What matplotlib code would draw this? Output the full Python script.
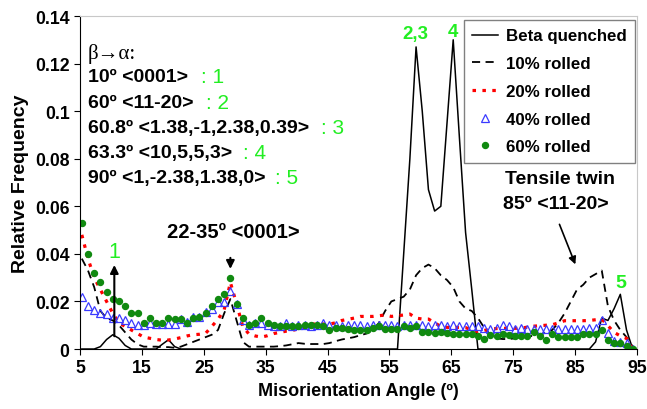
import numpy as np
import matplotlib
matplotlib.use("Agg")
import matplotlib.pyplot as plt

plt.rcParams['font.family'] = ['Liberation Sans', 'DejaVu Sans']
plt.rcParams['font.weight'] = 'bold'

# misorientation bins (deg)
angles = np.arange(5.3, 95, 1.0)

beta_quenched = [
    0, 0, 0, 0.001, 0.004, 0.006, 0.0045, 0.0015, 0, 0,
    0, 0, 0, 0.002, 0.0039, 0.001, 0, 0, 0, 0,
    0, 0, 0, 0, 0, 0, 0, 0, 0, 0,
    0, 0, 0, 0, 0, 0, 0, 0, 0, 0,
    0, 0, 0, 0, 0, 0, 0, 0, 0, 0,
    0, 0, 0.04, 0.08, 0.127, 0.10, 0.067, 0.058, 0.060, 0.095,
    0.13, 0.089, 0.049, 0.025, 0, 0, 0, 0, 0, 0,
    0, 0, 0, 0, 0, 0, 0, 0, 0, 0,
    0, 0, 0, 0.003, 0.013, 0.012, 0.017, 0.023, 0.008, 0,
]
rolled10 = [
    0.038, 0.033, 0.026, 0.016, 0.013, 0.012, 0.010, 0.007, 0.004, 0.002,
    0.001, 0.001, 0.001, 0.0008, 0.0008, 0.0005, 0.001, 0.002, 0.003, 0.004,
    0.005, 0.006, 0.008, 0.015, 0.021, 0.012, 0.003, 0.001, 0.001, 0.001,
    0.001, 0.001, 0.0012, 0.0015, 0.002, 0.0025, 0.0022, 0.0021, 0.0021, 0.0021,
    0.0025, 0.0033, 0.004, 0.0045, 0.005, 0.0058, 0.0065, 0.008, 0.011, 0.016,
    0.020, 0.021, 0.022, 0.025, 0.031, 0.034, 0.0355, 0.034, 0.031, 0.029,
    0.026, 0.020, 0.017, 0.016, 0.013, 0.009, 0.006, 0.0045, 0.0042, 0.0042,
    0.0045, 0.005, 0.0052, 0.0056, 0.006, 0.007, 0.008, 0.011, 0.015, 0.020,
    0.025, 0.027, 0.030, 0.0315, 0.033, 0.018, 0.012, 0.008, 0.005, 0.001,
]
rolled20 = [
    0.048, 0.038, 0.030, 0.025, 0.020, 0.015, 0.011, 0.0095, 0.008, 0.0065,
    0.005, 0.0045, 0.004, 0.0037, 0.0038, 0.0042, 0.0048, 0.0055, 0.006, 0.0062,
    0.0066, 0.0095, 0.0125, 0.0165, 0.028, 0.019, 0.0095, 0.0063, 0.0055, 0.005,
    0.0056, 0.0065, 0.007, 0.0075, 0.0078, 0.0085, 0.009, 0.0105, 0.0105, 0.0105,
    0.0105, 0.011, 0.012, 0.0125, 0.013, 0.0137, 0.0137, 0.0137, 0.014, 0.0143,
    0.0137, 0.014, 0.0143, 0.0147, 0.013, 0.0126, 0.0126, 0.011, 0.0095, 0.0091,
    0.0091, 0.0091, 0.009, 0.008, 0.0073, 0.0078, 0.0084, 0.0086, 0.0087, 0.0087,
    0.0087, 0.0088, 0.0092, 0.0096, 0.0098, 0.010, 0.0102, 0.011, 0.0119, 0.0119,
    0.0119, 0.0119, 0.012, 0.0123, 0.0126, 0.0098, 0.007, 0.0055, 0.0045, 0.0,
]
rolled40 = [
    0.022, 0.018, 0.0165, 0.015, 0.0147, 0.013, 0.013, 0.012, 0.011, 0.010,
    0.010, 0.011, 0.0105, 0.0105, 0.0105, 0.0105, 0.0126, 0.0115, 0.0133, 0.0133,
    0.0154, 0.017, 0.0196, 0.0196, 0.0245, 0.019, 0.0123, 0.0101, 0.0109, 0.0109,
    0.0101, 0.0098, 0.0098, 0.0109, 0.0098, 0.0101, 0.0101, 0.0098, 0.0101, 0.0109,
    0.0100, 0.0102, 0.0098, 0.0101, 0.0099, 0.0102, 0.0098, 0.0100, 0.0103, 0.0099,
    0.0101, 0.0098, 0.0102, 0.0099, 0.0101, 0.0100, 0.0098, 0.0101, 0.0099, 0.0097,
    0.0099, 0.0096, 0.0098, 0.0095, 0.0097, 0.0090, 0.0086, 0.0088, 0.0100, 0.0098,
    0.0085, 0.0088, 0.0084, 0.0086, 0.0083, 0.0085, 0.0086, 0.0084, 0.0083, 0.0085,
    0.0083, 0.0086, 0.0088, 0.0088, 0.0122, 0.0067, 0.0035, 0.0028, 0.0025, 0.0,
]
rolled60 = [
    0.053, 0.040, 0.032, 0.028, 0.024, 0.021, 0.020, 0.018, 0.015, 0.015,
    0.011, 0.013, 0.011, 0.011, 0.013, 0.0125, 0.0125, 0.011, 0.013, 0.0135,
    0.015, 0.018, 0.021, 0.023, 0.030, 0.019, 0.013, 0.010, 0.011, 0.013,
    0.011, 0.010, 0.0095, 0.0095, 0.0095, 0.0098, 0.010, 0.010, 0.010, 0.0095,
    0.008, 0.009, 0.0087, 0.0084, 0.008, 0.008, 0.008, 0.009, 0.0095, 0.0084,
    0.0084, 0.0084, 0.0095, 0.0087, 0.0095, 0.007, 0.007, 0.0067, 0.0073, 0.0067,
    0.0062, 0.0062, 0.0062, 0.0062, 0.0056, 0.0042, 0.006, 0.0056, 0.0062, 0.006,
    0.0053, 0.0053, 0.0056, 0.007, 0.0056, 0.004, 0.0062, 0.0052, 0.0052, 0.0052,
    0.0052, 0.0062, 0.0062, 0.0062, 0.008, 0.0039, 0.0025, 0.0025, 0.0014, 0.0,
]

legend_labels = ['Beta quenched', '10% rolled', '20% rolled', '40% rolled', '60% rolled']
key_lines = ['\u03b2\u2192\u03b1:', '10\u00ba <0001>', '60\u00ba <11-20>',
             '60.8\u00ba <1.38,-1,2.38,0.39>', '63.3\u00ba <10,5,5,3>', '90\u00ba <1,-2.38,1.38,0>']
key_tags = [': 1', ': 2', ': 3', ': 4', ': 5']

lime = '#22ee22'

fig = plt.figure(figsize=(6.47, 4.10), dpi=100)
ax = fig.add_axes([0.1236, 0.1463, 0.861, 0.8122])

ax.plot(angles, beta_quenched, color='black', lw=1.1, label=legend_labels[0])
ax.plot(angles, rolled10, color='black', lw=1.3, dashes=(4.5, 3), label=legend_labels[1])
ax.plot(angles, rolled20, color='red', lw=2.3, dashes=(1.1, 2.0), label=legend_labels[2])
ax.plot(angles, rolled40, ls='none', marker='^', ms=6, mfc='none', mec='#3a3aff',
        mew=0.9, label=legend_labels[3])
ax.plot(angles, rolled60, ls='none', marker='o', ms=4.3, color='#108a10', label=legend_labels[4])

ax.set_xlim(5, 95)
ax.set_ylim(0, 0.14)
ax.set_xticks(range(5, 96, 10))
ax.set_yticks(np.arange(0, 0.141, 0.02))
ax.yaxis.set_major_formatter(matplotlib.ticker.FuncFormatter(lambda v, p: '%g' % round(v, 2)))
ax.tick_params(labelsize=12.7, direction='out', length=4, width=0.8)
ax.set_xlabel('Misorientation Angle (\u00ba)', fontsize=13, fontweight='bold', labelpad=4)
ax.set_ylabel('Relative Frequency', fontsize=14, fontweight='bold', labelpad=4)
for s in ['top', 'right']:
    ax.spines[s].set_color('#c8c8c8')
    ax.spines[s].set_linewidth(0.8)

leg = ax.legend(loc='upper right', bbox_to_anchor=(0.997, 0.988), borderaxespad=0,
                fontsize=12.2, frameon=True, fancybox=False, framealpha=1,
                edgecolor='#808080', handlelength=1.5, labelspacing=0.75,
                numpoints=1, borderpad=0.5, handletextpad=0.5)
leg.get_frame().set_linewidth(1.0)

# transformation key, top left
ax.text(6.3, 0.1243, key_lines[0], fontsize=15, family='Liberation Serif',
        fontweight='normal', va='center')
key_y = [0.1145, 0.1035, 0.093, 0.0828, 0.0723]
tag_x = [24.6, 25.4, 44.0, 31.4, 36.5]
for yy, txt, tg, tx in zip(key_y, key_lines[1:], key_tags, tag_x):
    ax.text(6.3, yy, txt, fontsize=14, fontweight='bold', va='center')
    ax.text(tx, yy, tg, fontsize=15, fontweight='normal', color=lime, va='center')

# peak labels
ax.text(59.2, 0.1325, '2,3', fontsize=13.5, color=lime, ha='center', va='center')
ax.text(65.3, 0.1335, '4', fontsize=13.5, color=lime, ha='center', va='center')
ax.text(92.3, 0.028, '5', fontsize=14, color=lime, ha='center', va='center')
ax.text(10.55, 0.041, '1', fontsize=15.5, color=lime, ha='center', va='center', fontweight='normal')
ax.annotate('', xy=(10.55, 0.0365), xytext=(10.55, 0.0042),
            arrowprops=dict(arrowstyle='-|>', color='black', lw=1.5, mutation_scale=12))

ax.text(29.8, 0.0495, '22-35\u00ba <0001>', fontsize=14.5, fontweight='bold', ha='center', va='center')
ax.annotate('', xy=(29.3, 0.0325), xytext=(29.3, 0.0395),
            arrowprops=dict(arrowstyle='-|>', color='black', lw=1.5, mutation_scale=12))

ax.text(82.5, 0.0715, 'Tensile twin', fontsize=14, fontweight='bold', ha='center', va='center')
ax.text(81.9, 0.0612, '85\u00ba <11-20>', fontsize=14, fontweight='bold', ha='center', va='center')
ax.annotate('', xy=(85.2, 0.0345), xytext=(82.3, 0.0535),
            arrowprops=dict(arrowstyle='-|>', color='black', lw=1.2, mutation_scale=11))

plt.savefig('out.png', dpi=100)
